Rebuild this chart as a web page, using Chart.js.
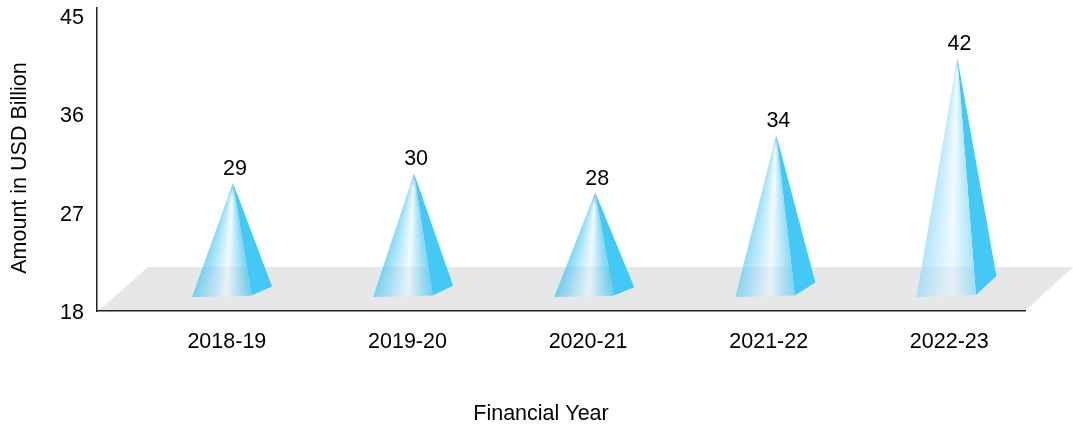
<!doctype html>
<html><head><meta charset="utf-8"><title>Amount in USD Billion by Financial Year</title>
<style>
  html, body { margin: 0; background: #fff; }
  canvas { display: block; }
</style>
</head>
<body>
<canvas id="c" width="1073" height="427"></canvas>
<script src="https://cdn.jsdelivr.net/npm/chart.js"></script>
<script>
const categories = ['2018-19', '2019-20', '2020-21', '2021-22', '2022-23']
const amounts = [29, 30, 28, 34, 42]
const yTicks = [18, 27, 36, 45]
const xTitle = 'Financial Year'
const yTitle = 'Amount in USD Billion'

const FONT = '"Liberation Sans", Arial, sans-serif'
const FONT_SIZE = 21.5
const TEXT = '#000'
const SIDE = '#44c8f5'
const FLOOR = '#e6e7e8'

function mix(a, b, t) {
  return a.map((v, i) => Math.round(v + (b[i] - v) * t))
}

// 前面の色: 頂点から底辺へ扇形に塗って、白い帯を頂点に収束させる
function faceColor(t, edgeL, edgeR) {
  const white = [240, 249, 254]
  const c = t < 0.58 ? mix(edgeL, white, t / 0.58) : mix(white, edgeR, (t - 0.58) / 0.42)
  return `rgb(${c[0]},${c[1]},${c[2]})`
}

function drawPyramid(ctx, el, value, area) {
  const apexX = el.x
  const apexY = el.y
  const baseY = el.base
  const h = baseY - apexY
  const left = apexX - 41
  const front = apexX + 18.5
  const back = apexX + 39
  const frontY = baseY - 1 - h * 0.004
  const backY = frontY - h * 0.08

  // 背が高いほど淡い
  const k = Math.min(1, Math.max(0, (value - 28) / 14))
  const edgeL = mix([118, 212, 246], [176, 230, 250], k)
  const edgeR = mix([112, 210, 244], [170, 228, 250], k)

  ctx.save()
  ctx.fillStyle = SIDE
  ctx.beginPath()
  ctx.moveTo(apexX, apexY)
  ctx.lineTo(front, frontY)
  ctx.lineTo(back, backY)
  ctx.closePath()
  ctx.fill()

  const steps = 60
  for (let i = 0; i < steps; i++) {
    const t0 = i / steps
    const t1 = Math.min(1, (i + 1.6) / steps)
    ctx.fillStyle = faceColor((i + 0.5) / steps, edgeL, edgeR)
    ctx.beginPath()
    ctx.moveTo(apexX, apexY)
    ctx.lineTo(left + (front - left) * t0, baseY + (frontY - baseY) * t0)
    ctx.lineTo(left + (front - left) * t1, baseY + (frontY - baseY) * t1)
    ctx.closePath()
    ctx.fill()
  }

  // 床が少し透ける + 先端の紫がかった色
  ctx.beginPath()
  ctx.moveTo(apexX, apexY)
  ctx.lineTo(left, baseY)
  ctx.lineTo(front, frontY)
  ctx.closePath()
  ctx.clip()
  ctx.fillStyle = 'rgba(0,0,0,0.03)'
  ctx.fillRect(left, area.bottom - 44, front - left, 44)
  const tip = ctx.createLinearGradient(0, apexY, 0, apexY + 14)
  tip.addColorStop(0, 'rgba(130,170,235,0.9)')
  tip.addColorStop(1, 'rgba(130,170,235,0)')
  ctx.fillStyle = tip
  ctx.fillRect(left, apexY, front - left, 14)
  ctx.restore()
}

const pyramidPlugin = {
  id: 'pyramids',
  beforeDraw(chart) {
    const { ctx, chartArea: a } = chart
    ctx.save()
    ctx.fillStyle = FLOOR
    ctx.beginPath()
    ctx.moveTo(a.left + 1, a.bottom)
    ctx.lineTo(a.left + 51, a.bottom - 44)
    ctx.lineTo(a.right + 48, a.bottom - 44)
    ctx.lineTo(a.right, a.bottom)
    ctx.closePath()
    ctx.fill()
    ctx.restore()
  },
  afterDatasetsDraw(chart) {
    const { ctx, chartArea: a } = chart
    const bars = chart.getDatasetMeta(0).data
    bars.forEach((el, i) => drawPyramid(ctx, el, amounts[i], a))

    ctx.save()
    ctx.fillStyle = TEXT
    ctx.font = `${FONT_SIZE}px ${FONT}`
    ctx.textAlign = 'center'
    ctx.textBaseline = 'middle'
    bars.forEach((el, i) => ctx.fillText(String(amounts[i]), el.x + 2, el.y - 14))

    // 軸タイトルはプロット中央からずれているので自前で置く
    ctx.fillText(xTitle, 541, 414.5)
    ctx.translate(20, 168)
    ctx.rotate(-Math.PI / 2)
    ctx.fillText(yTitle, 0, 0)
    ctx.restore()
  }
}

const ctx = document.getElementById('c').getContext('2d')
new Chart(ctx, {
  type: 'bar',
  data: {
    datasets: [{
      label: yTitle,
      data: amounts.map((v, i) => ({ x: i, y: v })),
      base: 17.125,
      backgroundColor: 'rgba(0,0,0,0)',
      xAxisID: 'x2',
      yAxisID: 'y2'
    }]
  },
  plugins: [pyramidPlugin],
  options: {
    responsive: false,
    animation: false,
    layout: { padding: { top: 8, right: 48 } },
    plugins: { legend: { display: false }, tooltip: { enabled: false } },
    scales: {
      x: {
        type: 'linear',
        offset: false,
        min: -0.719,
        max: 4.419,
        bounds: 'data',
        grid: { display: false, drawTicks: false },
        border: { color: '#222', width: 1.5 },
        afterBuildTicks: (s) => { s.ticks = categories.map((_, i) => ({ value: i })) },
        afterFit: (s) => { s.height = 116; s.paddingLeft = 0; s.paddingRight = 0 },
        ticks: {
          autoSkip: false,
          maxRotation: 0,
          padding: 18,
          color: TEXT,
          font: { family: FONT, size: FONT_SIZE },
          callback: (v) => categories[v]
        }
      },
      y: {
        type: 'linear',
        min: 18,
        max: 45.68,
        bounds: 'data',
        grid: { display: false, drawTicks: false },
        border: { color: '#222', width: 1.5 },
        afterBuildTicks: (s) => { s.ticks = yTicks.map((v) => ({ value: v })) },
        afterFit: (s) => { s.width = 97; s.paddingTop = 0; s.paddingBottom = 0 },
        ticks: {
          padding: 13,
          labelOffset: 2.5,
          color: TEXT,
          font: { family: FONT, size: FONT_SIZE }
        }
      },
      // 錐体用の非表示スケール（ラベル目盛りとは少しずれている）
      x2: { type: 'linear', display: false, offset: false, bounds: 'data', min: -0.751, max: 4.373 },
      y2: { type: 'linear', display: false, bounds: 'data', min: 15.67, max: 47.23 }
    }
  }
})
</script>
</body></html>
